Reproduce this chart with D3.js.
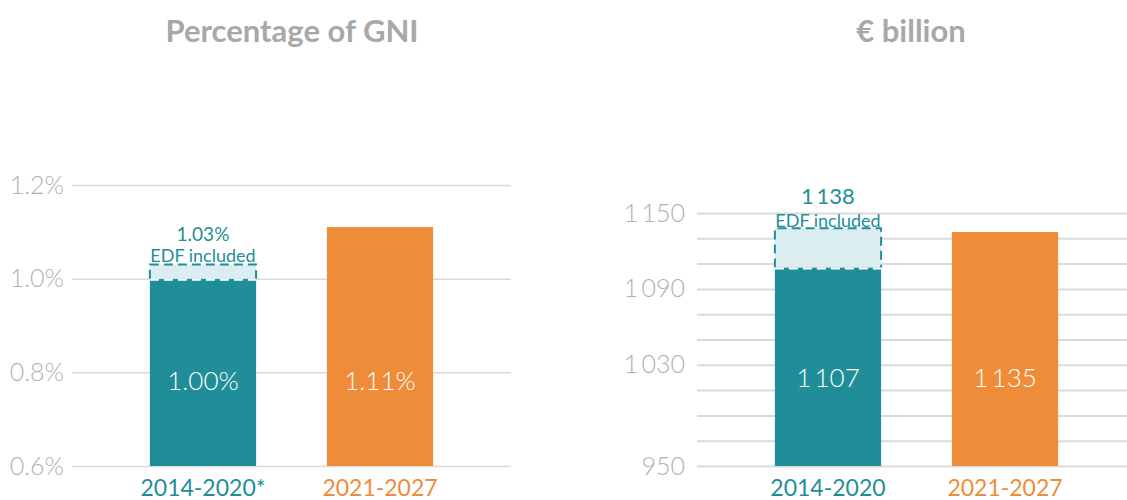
<!DOCTYPE html>
<html>
<head>
<meta charset="utf-8">
<script src="https://cdn.jsdelivr.net/npm/d3@7"></script>
<style>
  body { margin: 0; background: #fff; }
  svg { display: block; font-family: Lato, "Open Sans", sans-serif; }
</style>
</head>
<body>
<svg id="chart" width="1127" height="500"></svg>
<script>
// data
const gniPeriods = ["2014-2020*", "2021-2027"];
const gniShare = [1.00, 1.11];
const gniShareEdf = 1.03;
const gniTicks = [0.6, 0.8, 1.0, 1.2];

const eurPeriods = ["2014-2020", "2021-2027"];
const eurBillion = [1107, 1135];
const eurBillionEdf = 1138;
const eurGrid = [950, 970, 990, 1010, 1030, 1050, 1070, 1090, 1110, 1130, 1150];
const eurTicks = [950, 1030, 1090, 1150];

const teal = "#1f8e98", orange = "#ee8c3a", lightTeal = "#dcedf2";
const barColors = [teal, orange];

const spaced = d3.formatLocale({decimal: ".", thousands: "\u2009", grouping: [3], currency: ["", ""]}).format(",");
const pct = d => d3.format(".1f")(d) + "%";
const pct2 = d => d3.format(".2f")(d) + "%";

const svg = d3.select("#chart");

function drawPanel(opt) {
  let g = svg.append("g");
  let x = d3.scaleBand().domain(opt.cats).range(opt.xRange).paddingInner(0.4).paddingOuter(0.44);
  let y = d3.scaleLinear().domain(opt.domain).range([466, opt.top]);

  // title
  g.append("text")
    .attr("x", opt.titleX).attr("y", 42)
    .attr("text-anchor", "middle")
    .style("font-size", "31px").style("font-weight", 700)
    .style("fill", "#a8a8a8")
    .text(opt.title);

  // gridlines
  g.append("g")
    .attr("transform", "translate(" + opt.xRange[0] + ",0)")
    .call(d3.axisLeft(y).tickValues(opt.grid).tickSize(-(opt.xRange[1] - opt.xRange[0])).tickFormat(""))
    .call(a => a.select(".domain").remove())
    .call(a => a.selectAll("line").attr("stroke", "#dadada").attr("stroke-width", opt.gridWidth));

  // tick labels
  g.append("g")
    .attr("transform", "translate(" + opt.labelX + ",0)")
    .call(d3.axisLeft(y).tickValues(opt.ticks).tickSize(0).tickPadding(0).tickFormat(opt.tickFormat))
    .call(a => a.select(".domain").remove())
    .call(a => a.selectAll("text")
      .style("font-family", "Lato, sans-serif").style("font-size", "25px")
      .style("font-weight", 300).attr("fill", "#b0b0b0"));

  // bars
  g.selectAll("rect.bar").data(opt.values).enter().append("rect")
    .attr("class", "bar")
    .attr("x", (d, i) => x(opt.cats[i]))
    .attr("y", d => y(d))
    .attr("width", x.bandwidth())
    .attr("height", d => y(opt.domain[0]) - y(d))
    .attr("fill", (d, i) => barColors[i]);

  // EDF extension on the first bar
  let x0 = x(opt.cats[0]), x1 = x0 + x.bandwidth();
  let yTop = y(opt.edf), yBase = y(opt.values[0]);
  g.append("rect")
    .attr("x", x0).attr("y", yTop)
    .attr("width", x.bandwidth()).attr("height", yBase - yTop)
    .attr("fill", lightTeal);
  g.append("path")
    .attr("d", "M" + x0 + "," + yBase + "V" + yTop + "H" + x1 + "V" + yBase)
    .attr("fill", "none").attr("stroke", teal).attr("stroke-width", 2)
    .attr("stroke-dasharray", "9,5");
  g.append("line")
    .attr("x1", x0).attr("x2", x1).attr("y1", yBase + 1).attr("y2", yBase + 1)
    .attr("stroke", "#fff").attr("stroke-width", 2).attr("stroke-dasharray", "9,5");

  let cx = x0 + x.bandwidth() / 2;
  g.append("text")
    .attr("x", cx).attr("y", opt.edfY[0])
    .attr("text-anchor", "middle")
    .style("font-size", opt.edfSize + "px").style("font-weight", 400).style("fill", teal)
    .text(opt.edfFormat(opt.edf));
  g.append("text")
    .attr("x", cx).attr("y", opt.edfY[1])
    .attr("text-anchor", "middle")
    .style("font-size", "18px").style("font-weight", 400).style("fill", teal)
    .text("EDF included");

  // values inside bars
  g.selectAll("text.val").data(opt.values).enter().append("text")
    .attr("class", "val")
    .attr("x", (d, i) => x(opt.cats[i]) + x.bandwidth() / 2)
    .attr("y", opt.valueY)
    .attr("text-anchor", "middle")
    .style("font-size", "26px").style("font-weight", 300).style("fill", "#fff")
    .text(d => opt.valueFormat(d));

  // category labels
  g.selectAll("text.cat").data(opt.cats).enter().append("text")
    .attr("class", "cat")
    .attr("x", d => x(d) + x.bandwidth() / 2)
    .attr("y", 496)
    .attr("text-anchor", "middle")
    .style("font-size", "23px").style("font-weight", 400)
    .style("fill", (d, i) => barColors[i])
    .text(d => d);
}

drawPanel({
  title: "Percentage of GNI", titleX: 292,
  cats: gniPeriods, values: gniShare, edf: gniShareEdf,
  domain: [0.6, 1.2], top: 185, xRange: [72, 511],
  grid: gniTicks, ticks: gniTicks, tickFormat: pct, labelX: 64, gridWidth: 1.5,
  edfFormat: pct2, edfSize: 19, edfY: [241, 262],
  valueFormat: pct2, valueY: 390
});

drawPanel({
  title: "\u20ac billion", titleX: 911,
  cats: eurPeriods, values: eurBillion, edf: eurBillionEdf,
  domain: [950, 1150], top: 213, xRange: [697, 1136],
  grid: eurGrid, ticks: eurTicks, tickFormat: spaced, labelX: 685, gridWidth: 2,
  edfFormat: spaced, edfSize: 22, edfY: [204, 227],
  valueFormat: spaced, valueY: 387
});
</script>
</body>
</html>
